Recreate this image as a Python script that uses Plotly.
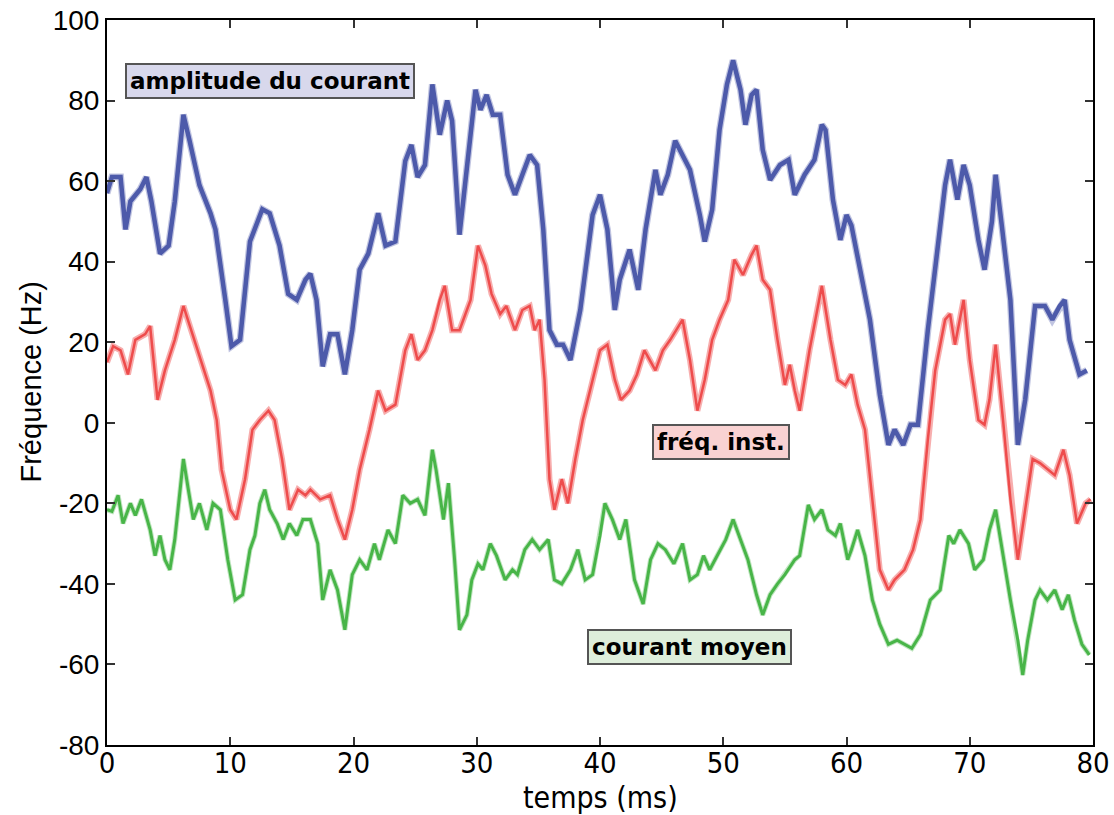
import plotly.graph_objects as go

# ---- data (time in ms, frequency in Hz) ----
t_amp = [0, 0.4, 1.1, 1.5, 1.9, 2.7, 3.2, 3.6, 4.3, 5.0, 5.5, 6.2, 6.7, 7.5, 8.4, 8.8,
         9.6, 10.1, 10.8, 11.6, 12.6, 13.2, 14.0, 14.7, 15.4, 16.1, 16.5, 17.0, 17.5,
         18.1, 18.7, 19.3, 19.9, 20.5, 21.2, 22.0, 22.6, 23.4, 24.2, 24.7, 25.2, 25.8,
         26.4, 27.0, 27.6, 28.0, 28.6, 29.3, 29.9, 30.3, 30.8, 31.3, 31.9, 32.5, 33.1,
         33.7, 34.3, 34.9, 35.4, 35.9, 36.5, 37.0, 37.6, 38.4, 39.4, 40.0, 40.6, 41.2,
         41.6, 42.4, 43.1, 43.7, 44.5, 44.9, 45.5, 46.1, 46.7, 47.3, 48.1, 48.5, 49.1,
         49.7, 50.3, 50.8, 51.4, 51.8, 52.3, 52.7, 53.2, 53.8, 54.6, 55.3, 55.8, 56.6,
         57.4, 58.0, 58.3, 58.9, 59.5, 60.0, 60.4, 61.1, 61.9, 62.7, 63.4, 63.9, 64.6,
         65.2, 65.8, 66.6, 67.4, 68.0, 68.4, 69.0, 69.5, 70.0, 70.7, 71.2, 71.8, 72.1,
         72.6, 73.3, 73.9, 74.5, 75.3, 76.1, 76.7, 77.3, 77.7, 78.1, 78.9, 79.5]
y_amp = [57, 61, 61, 48, 55, 58, 61, 55, 42, 44, 55, 76.5, 70, 59, 52, 48,
         30.5, 19, 20.6, 45, 53, 52, 44, 32, 30.5, 35.5, 37, 30.5, 14,
         22, 22, 12, 23, 38, 42, 52, 44, 45, 65, 69, 61, 64,
         84, 71.5, 80, 75, 46.7, 65, 82.7, 77.7, 81.4, 76.5, 76.5, 61.6, 56.6,
         61.6, 66.5, 64, 48, 23, 19.4, 19.4, 15.6, 28, 51.6, 56.6, 48, 28,
         35.5, 43, 33, 48, 62.8, 56.6, 61.6, 70, 66.5, 62.8, 51.6, 45, 52.9,
         72.7, 84, 90, 82.7, 74, 81.4, 82.7, 67.8, 60.3, 64, 65.3, 56.6, 61.6,
         65.3, 74, 72.7, 55.4, 45.4, 51.6, 49, 38, 25.6, 7, -5.5, -1.7, -5.5,
         -0.5, -0.5, 23, 43, 59, 65.3, 55.4, 64, 59, 45.4, 38, 50, 61.6,
         49, 30.5, -5.5, 5.7, 29, 29, 25.6, 29, 30.5, 20.6, 12, 13]

t_freq = [0, 0.5, 1.1, 1.7, 2.3, 3.1, 3.5, 4.1, 4.7, 5.5, 6.2, 6.7, 7.5, 8.4, 8.9,
          9.3, 10.0, 10.5, 11.2, 11.8, 12.4, 13.1, 13.6, 14.2, 14.8, 15.5, 16.1, 16.5,
          17.3, 18.1, 18.7, 19.3, 19.9, 20.5, 21.3, 22.0, 22.6, 23.4, 24.2, 24.7, 25.2,
          25.8, 26.4, 27.0, 27.4, 28.0, 28.6, 29.5, 30.1, 30.7, 31.2, 31.9, 32.4, 33.1,
          33.7, 34.3, 34.7, 35.1, 35.5, 35.9, 36.3, 36.9, 37.4, 38.0, 38.6, 39.2, 40.0,
          40.6, 41.2, 41.7, 42.4, 43.0, 43.6, 44.5, 45.1, 45.7, 46.7, 47.3, 47.9, 48.5,
          49.1, 49.7, 50.4, 50.9, 51.6, 52.3, 52.7, 53.2, 53.8, 54.4, 55.0, 55.4, 55.8,
          56.2, 57.0, 58.0, 58.7, 59.3, 59.9, 60.4, 60.9, 61.5, 62.1, 62.7, 63.4, 63.9,
          64.7, 65.4, 66.0, 66.6, 67.2, 68.0, 68.4, 68.8, 69.5, 70.0, 70.7, 71.2, 71.6,
          72.1, 72.7, 73.3, 73.9, 74.5, 75.1, 75.7, 76.4, 76.9, 77.6, 78.1, 78.7, 79.4,
          79.8]
y_freq = [15, 19, 18, 12, 20.6, 22, 24, 5.7, 13, 20.6, 29, 24.3, 17, 8, 0.7,
          -11.7, -21.6, -24, -14, -1.7, 0.7, 3, 0.7, -9, -21.6, -16.6, -18, -16.6,
          -19, -18, -24, -29, -21.6, -11.7, -1.7, 8, 3, 4.5, 18, 22, 15.6,
          18, 23, 30.5, 34, 23, 23, 30.5, 44, 39, 32, 27, 29, 23,
          28, 29, 23, 25.6, 10.7, -14, -21.6, -14, -20, -9, 0.7, 8, 18,
          19.4, 10.7, 5.7, 8, 12, 18, 13, 18, 20.6, 25.6, 15.6, 3, 10.7,
          20.6, 25.6, 30.5, 40.5, 36.7, 41.7, 44, 35.5, 33, 20.6, 9.4, 14.4, 8,
          3, 18, 34, 20.6, 10.7, 9.4, 12, 4.5, -1.7, -19, -36.5, -41.5, -39,
          -36.5, -31.5, -24, -4.2, 13, 25.6, 27, 19.4, 30.5, 15.6, 0.7, -0.5, 5.7,
          19.4, 0.7, -19, -34, -21.6, -9, -10, -11.7, -13, -6.7, -13, -25, -20,
          -19]

t_cur = [0, 0.4, 0.9, 1.3, 1.9, 2.3, 2.8, 3.5, 3.9, 4.3, 4.7, 5.1, 5.5, 6.2, 6.6,
         7.0, 7.5, 8.1, 8.6, 9.2, 9.8, 10.4, 11.0, 11.6, 12.0, 12.4, 12.8, 13.2, 13.8,
         14.3, 14.8, 15.4, 15.9, 16.5, 17.1, 17.5, 18.1, 18.7, 19.3, 19.9, 20.5, 21.1,
         21.7, 22.1, 22.8, 23.4, 24.0, 24.6, 25.2, 25.8, 26.4, 26.7, 27.3, 27.7, 28.2,
         28.6, 29.2, 29.6, 30.1, 30.5, 31.1, 31.6, 32.3, 32.9, 33.3, 33.9, 34.5, 35.1,
         35.8, 36.3, 36.9, 37.6, 38.2, 38.8, 39.4, 40.0, 40.4, 41.0, 41.6, 42.1, 42.8,
         43.5, 44.1, 44.7, 45.3, 46.0, 46.7, 47.3, 47.9, 48.4, 48.9, 49.5, 50.2, 50.8,
         51.4, 52.0, 52.7, 53.2, 53.8, 54.4, 55.0, 55.8, 56.2, 56.9, 57.4, 58.0, 58.5,
         59.1, 59.5, 60.1, 60.4, 60.9, 61.5, 62.1, 62.7, 63.4, 64.1, 64.7, 65.3, 66.0,
         66.8, 67.6, 68.3, 68.7, 69.2, 69.9, 70.4, 71.1, 71.6, 72.1, 72.7, 73.3, 73.9,
         74.3, 74.7, 75.3, 75.7, 76.3, 76.9, 77.5, 78.0, 78.5, 79.1, 79.7]
y_cur = [-21.6, -22, -18, -25, -20, -23, -19, -26.6, -33, -28, -34, -36.5, -29, -9, -16.6,
         -24, -20, -26.6, -20, -21.6, -34, -44, -42.7, -31.5, -28, -20, -16.6, -21.6, -25,
         -29, -25, -28, -24, -24, -30, -44, -36.5, -41.5, -51.4, -37.7, -34, -36.5,
         -30, -34, -26.6, -30, -18, -20, -19, -23, -6.7, -11.7, -24, -15, -34,
         -51.4, -47.7, -39, -35, -36.5, -30, -33, -39, -36.5, -37.7, -31.5, -29, -31.5,
         -29, -39, -40, -36.5, -31.5, -39, -37.7, -28, -20, -24, -29, -24, -39,
         -45, -34, -30, -31.5, -35, -30, -39, -37.7, -33, -36.5, -33, -29, -24,
         -29, -34, -42.7, -47.7, -42.7, -40, -37.7, -34, -33, -20.4, -24, -21.6, -26.6,
         -28, -25, -34, -31.5, -26.6, -33, -44, -50, -55, -54, -55, -56, -52.6,
         -44, -41.5, -28, -30, -26.6, -30, -36.5, -34, -26.6, -21.6, -33, -44, -54,
         -62.6, -54, -44, -41.5, -44, -41.5, -46.4, -42.7, -49, -55, -57.6]

label_amp = "amplitude du courant"
label_freq = "fréq. inst."
label_cur = "courant moyen"
x_title = "temps (ms)"
y_title = "Fréquence (Hz)"

x_ticks = [0, 10, 20, 30, 40, 50, 60, 70, 80]
y_ticks = [-80, -60, -40, -20, 0, 20, 40, 60, 80, 100]

BLUE = "#4d5aaa"
RED = "#ee4c4c"
GREEN = "#48b548"

fig = go.Figure()
# soft halo under each trace to mimic the noisy band of the measured signals
fig.add_trace(go.Scatter(x=t_amp, y=y_amp, mode="lines", line=dict(color="rgba(77,90,170,0.35)", width=7),
                         hoverinfo="skip", showlegend=False))
fig.add_trace(go.Scatter(x=t_amp, y=y_amp, mode="lines", line=dict(color=BLUE, width=4.5),
                         name=label_amp, showlegend=False))
fig.add_trace(go.Scatter(x=t_freq, y=y_freq, mode="lines", line=dict(color="rgba(238,76,76,0.45)", width=6),
                         hoverinfo="skip", showlegend=False))
fig.add_trace(go.Scatter(x=t_freq, y=y_freq, mode="lines", line=dict(color=RED, width=2.5),
                         name=label_freq, showlegend=False))
fig.add_trace(go.Scatter(x=t_cur, y=y_cur, mode="lines", line=dict(color="rgba(72,181,72,0.35)", width=5),
                         hoverinfo="skip", showlegend=False))
fig.add_trace(go.Scatter(x=t_cur, y=y_cur, mode="lines", line=dict(color=GREEN, width=3),
                         name=label_cur, showlegend=False))

ann_font = dict(family="DejaVu Sans, Verdana, sans-serif", size=23, color="black")
for txt, xa, ya, bg in [(label_amp, 13.2, 84.9, "#d8d8ec"),
                        (label_freq, 49.8, -4.7, "#f9d2d2"),
                        (label_cur, 47.3, -55.6, "#deeedb")]:
    fig.add_annotation(x=xa, y=ya, xref="x", yref="y", text="<b>" + txt + "</b>",
                       showarrow=False, font=ann_font, bgcolor=bg,
                       bordercolor="#555555", borderwidth=2, borderpad=3)

NARROW = "Liberation Sans Narrow, Arial Narrow, DejaVu Sans Condensed, sans-serif"
SANS = "Liberation Sans, Arial, sans-serif"

# axis titles as paper-anchored annotations (precise placement)
fig.add_annotation(x=0.5, y=0, xref="paper", yref="paper", text=x_title, showarrow=False,
                   xanchor="center", yanchor="middle", yshift=-52,
                   font=dict(family=NARROW, size=30, color="black"))
fig.add_annotation(x=0, y=0.5, xref="paper", yref="paper", text=y_title, showarrow=False,
                   xanchor="center", yanchor="middle", xshift=-77, textangle=-90,
                   font=dict(family=SANS, size=29, color="black"))

axis_common = dict(showgrid=False, zeroline=False, showline=True, linecolor="black", linewidth=2,
                   mirror="ticks", ticks="inside", ticklen=8, tickwidth=1.5, tickcolor="#333333",
                   ticklabeloverflow="allow", automargin=False)

fig.update_layout(
    width=1114, height=815,
    margin=dict(l=107, r=21, t=20, b=70),
    plot_bgcolor="white", paper_bgcolor="white",
    xaxis=dict(range=[0, 80], tickvals=x_ticks, ticktext=[str(v) for v in x_ticks],
               tickfont=dict(family=NARROW, size=29, color="black"), ticklabelstandoff=-9,
               **axis_common),
    yaxis=dict(range=[-80, 100], tickvals=y_ticks, ticktext=[str(v) for v in y_ticks],
               tickfont=dict(family=SANS, size=28, color="black"),
               **axis_common),
)

# remove the default page margin so the figure fills the 1114x815 window exactly
fig.write_html("out.html", config={"displayModeBar": False},
               post_script="document.body.style.margin='0';document.body.style.overflow='hidden';")
